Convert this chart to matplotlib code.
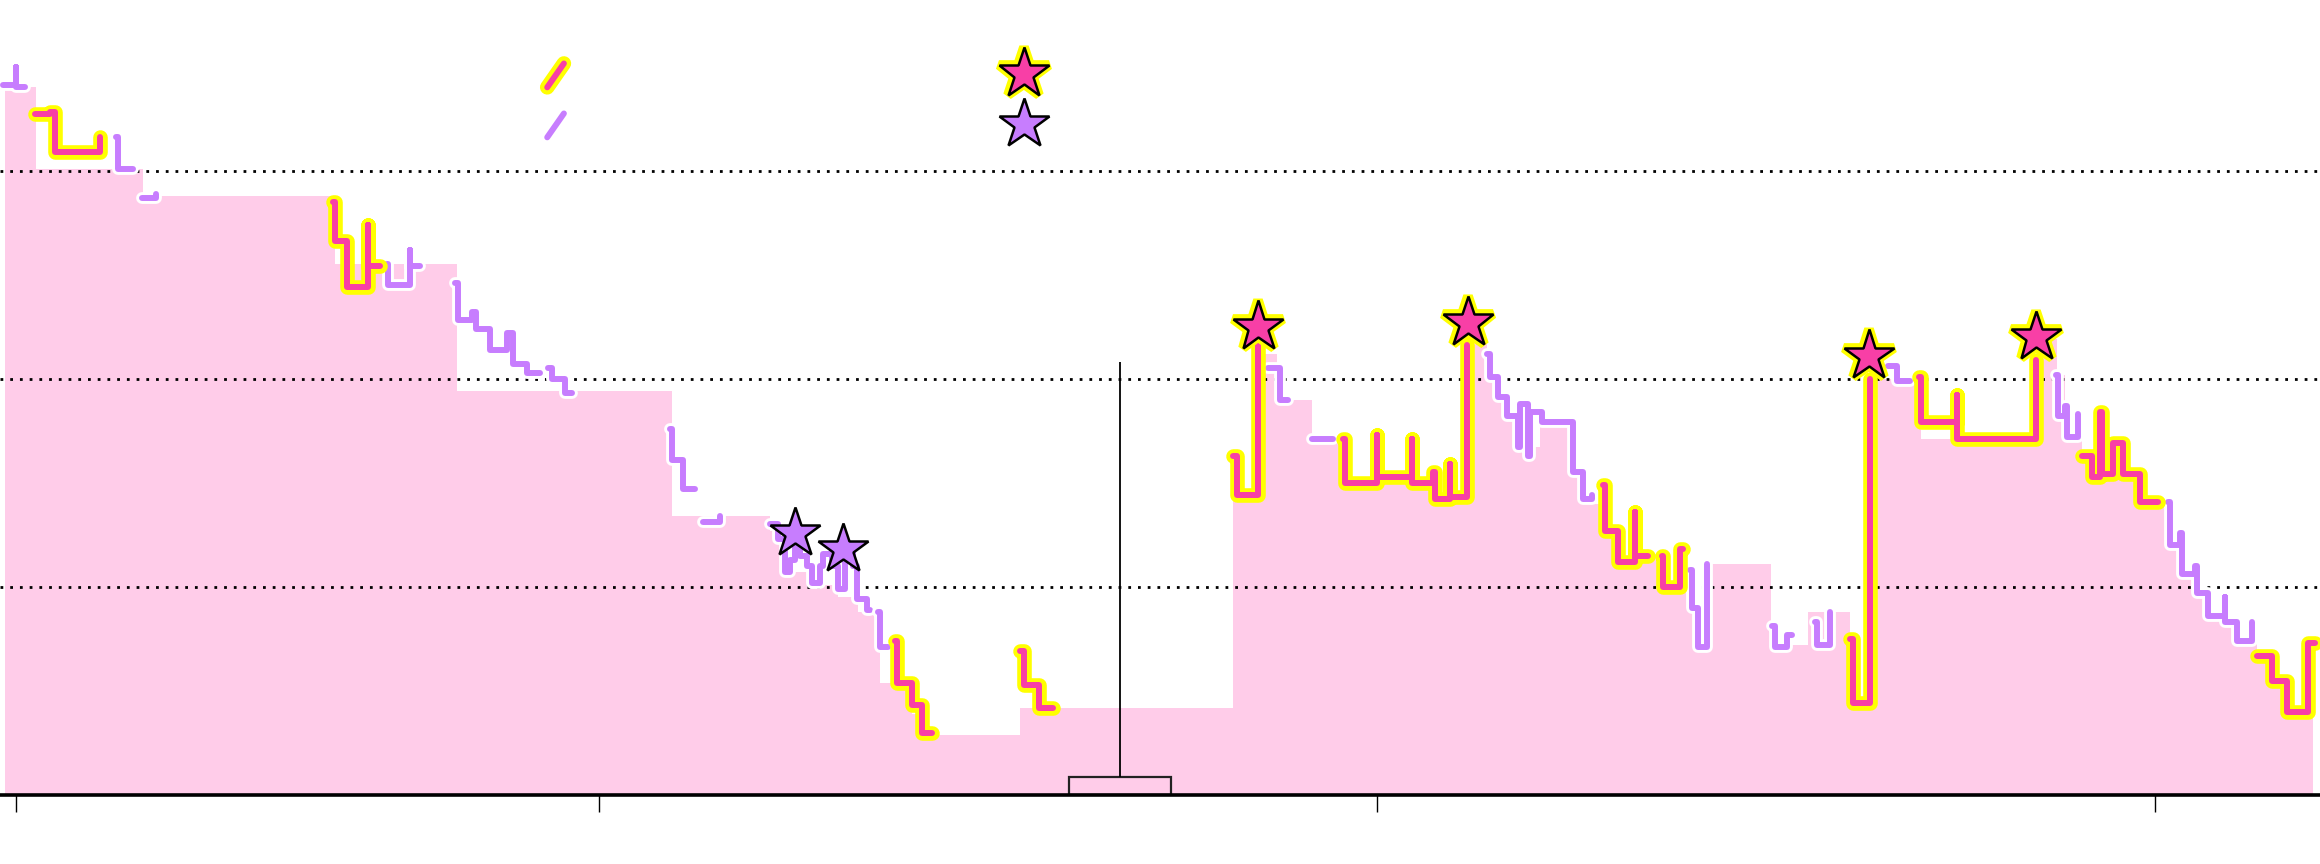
import matplotlib
matplotlib.use("Agg")
import matplotlib.pyplot as plt
import matplotlib.patheffects as pe
from matplotlib.lines import Line2D
from matplotlib.legend_handler import HandlerBase

# colours
FILL = "#ffcce9"
HOT = "#f83fa6"
COOL = "#c77dfe"
GLOW = "#ffff00"

# step line, split into pieces; each piece is "hot" or "cool"
seg_kind = ["cool", "hot", "cool", "cool", "hot", "cool", "cool", "cool", "cool", "cool",
            "cool", "cool", "hot", "hot", "hot", "cool", "cool", "hot", "cool", "hot",
            "hot", "cool", "cool", "cool", "hot", "cool", "hot", "cool", "hot", "cool", "hot"]
seg_x = [
    [23.4, 25.1, 25.1, 26.2],
    [27.5, 29.4, 30.1, 35.9],
    [37.9, 38.2, 40.1],
    [41.3, 43.1],
    [65.8, 66.1, 67.6, 70.3, 70.3, 71.8],
    [72.7, 72.9, 75.7, 75.7, 77.0],
    [81.5, 81.9, 83.7, 84.2, 86.0, 88.2, 88.9, 90.7, 92.4],
    [93.4, 94.0, 95.6, 96.5],
    [109.1, 109.4, 110.8, 112.3],
    [113.4, 115.5],
    [122.0, 123.0, 123.9, 124.5, 125.2, 125.8, 126.7, 127.4, 128.4, 128.8, 129.9, 130.7,
     131.6, 132.6, 133.2, 134.4, 134.8],
    [135.9, 136.1, 137.1],
    [138.0, 138.3, 140.2, 141.5, 142.8],
    [154.1, 154.6, 156.5, 158.3],
    [181.5, 182.0, 184.7],
    [186.0, 187.5, 188.5],
    [191.6, 194.3],
    [195.6, 195.9, 200.0, 200.0, 204.5, 204.5, 207.2, 207.4, 209.4, 209.4, 211.6],
    [214.1, 214.5, 215.5, 216.7, 218.1, 218.4, 219.4, 219.7, 221.2, 225.2, 226.5, 227.6],
    [229.0, 229.3, 231.0, 233.2, 233.2, 234.8],
    [236.6, 236.7, 238.9, 239.3],
    [240.2, 240.5, 241.2, 242.4],
    [250.8, 251.2, 252.7, 253.3],
    [256.3, 256.5, 258.2],
    [260.8, 261.2, 263.4],
    [265.7, 266.8, 268.5],
    [269.7, 269.9, 274.5, 274.5, 284.7],
    [287.3, 287.5, 288.4, 288.7, 290.1],
    [290.6, 291.9, 292.9, 293.2, 294.6, 295.9, 298.1, 300.4],
    [301.7, 301.9, 303.2, 303.5, 305.1, 305.4, 306.8, 309.0, 309.0, 310.5, 312.5],
    [313.1, 315.0, 317.0, 319.7, 320.6],
]
seg_y = [
    [341, 350, 340, 340],
    [327, 328, 309, 316],
    [316, 301, 301],
    [287, 289],
    [285, 266, 244, 274, 254, 254],
    [255, 245, 262, 254, 254],
    [246, 228, 232, 224, 214, 222, 207, 203, 203],
    [205, 200, 193, 193],
    [176, 161, 147, 147],
    [131, 134],
    [130, 123, 107, 113, 126, 115, 110, 102, 110, 116, 110, 99, 118, 110, 94, 89, 89],
    [88, 71, 71],
    [74, 54, 43, 30, 30],
    [69, 53, 42, 42],
    [163, 144, 216],
    [205, 190, 190],
    [171, 171],
    [171, 150, 173, 153, 171, 150, 155, 142, 159, 143, 216],
    [212, 201, 191, 182, 167, 188, 163, 184, 179, 155, 142, 144],
    [149, 127, 112, 136, 115, 115],
    [115, 100, 118, 118],
    [108, 90, 71, 111],
    [81, 71, 77, 77],
    [83, 72, 88],
    [75, 44, 200],
    [206, 199, 199],
    [201, 179, 192, 171, 209],
    [202, 182, 187, 172, 183],
    [163, 153, 184, 154, 169, 154, 141, 141],
    [141, 120, 126, 106, 110, 97, 86, 95, 83, 74, 83],
    [67, 55, 40, 73, 73],
]

# shaded area (step)
area_x = [23.6, 27.6, 41.4, 66.1, 81.7, 109.4, 122.0, 123.9, 127.1, 130.7, 133.3, 135.5,
          136.1, 140.2, 141.6, 154.1, 181.5, 184.7, 187.1, 191.6, 195.6, 207.2, 211.6,
          214.1, 215.5, 216.7, 218.1, 220.9, 225.2, 226.5, 229.0, 231.0, 234.7, 236.6,
          240.2, 241.2, 242.4, 250.6, 255.4, 260.8, 263.4, 269.9, 284.7, 287.4, 288.4,
          290.1, 290.6, 291.9, 295.9, 298.1, 301.9, 303.5, 305.4, 306.8, 309.0, 310.5,
          313.1, 315.0, 317.0, 320.3]
area_y = [340, 301, 288, 255, 194, 134, 127, 107, 101, 95, 88, 70, 54, 39, 29, 42, 145,
          212, 190, 171, 150, 143, 219, 201, 191, 182, 167, 177, 155, 140, 127, 112, 116,
          100, 90, 71, 111, 72, 88, 44, 200, 171, 219, 202, 182, 172, 163, 153, 154, 141,
          120, 106, 97, 86, 83, 74, 67, 55, 40, 40]

# star markers
hot_star_x = [184.7, 211.7, 263.2, 284.7]
hot_star_y = [225, 227, 211, 220]
cool_star_x = [125.2, 131.4]
cool_star_y = [126, 118]

# small box with a whisker
box_x = 167.0
box_w = 13.1
box_h = 8.7
whisker_top = 208

xticks = [25, 100, 200, 300]
yticks = [100, 200, 300]

LW = 4.3
hot_fx = [pe.Stroke(linewidth=10.5, foreground=GLOW, capstyle="round", joinstyle="round"), pe.Normal()]
cool_fx = [pe.Stroke(linewidth=8.5, foreground="white", capstyle="round", joinstyle="round"), pe.Normal()]


class DiagHandler(HandlerBase):
    # legend handle drawn as a short slanted stroke
    def create_artists(self, legend, orig_handle, xdescent, ydescent, width, height, fontsize, trans):
        x0, y0 = -xdescent, -ydescent
        ln = Line2D([x0 + 0.2 * width, x0 + 0.7 * width], [y0 + 0.1 * height, y0 + 0.9 * height])
        ln.update_from(orig_handle)
        ln.set_drawstyle("default")
        ln.set_marker("")
        ln.set_transform(trans)
        return [ln]


fig = plt.figure(figsize=(23.2, 8.64), dpi=100)
ax = fig.add_axes([0, 0.0799, 1, 0.9201])

ax.fill_between(area_x, area_y, 0, step="post", color=FILL, lw=0, zorder=1)

ax.bar(box_x, box_h, width=box_w, color=FILL, edgecolor="#222222", linewidth=1.6, zorder=2)
ax.vlines(box_x, box_h, whisker_top, color="black", linewidth=1.3, zorder=2)

hot_line = cool_line = None
for xs, ys, kind in zip(seg_x, seg_y, seg_kind):
    if kind == "hot":
        hot_line, = ax.plot(xs, ys, drawstyle="steps-post", color=HOT, lw=LW,
                            solid_capstyle="round", solid_joinstyle="round",
                            path_effects=hot_fx, zorder=4)
    else:
        cool_line, = ax.plot(xs, ys, drawstyle="steps-post", color=COOL, lw=LW,
                             solid_capstyle="round", solid_joinstyle="round",
                             path_effects=cool_fx, zorder=3)

hot_star, = ax.plot(hot_star_x, hot_star_y, ls="none", marker="*", markersize=38,
                    markerfacecolor=HOT, markeredgecolor="black", markeredgewidth=1.8,
                    path_effects=[pe.Stroke(linewidth=7, foreground=GLOW), pe.Normal()], zorder=6)
cool_star, = ax.plot(cool_star_x, cool_star_y, ls="none", marker="*", markersize=38,
                     markerfacecolor=COOL, markeredgecolor="black", markeredgewidth=1.8, zorder=5)

ax.set_xlim(23.0, 321.2)
ax.set_ylim(0, 382)
ax.set_xticks(xticks)
ax.set_xticklabels([])
ax.set_yticks(yticks)
ax.set_yticklabels([])
ax.tick_params(axis="x", length=12, width=1, color="black")
ax.tick_params(axis="y", length=0)
ax.grid(axis="y", color="black", linestyle=(0, (1, 2.5)), linewidth=2)
ax.set_axisbelow(False)
for s in ["top", "right", "left"]:
    ax.spines[s].set_visible(False)
ax.spines["bottom"].set_linewidth(2.6)
ax.patch.set_visible(False)

ax.legend([hot_line, cool_line, hot_star, cool_star], ["", "", "", ""],
          ncol=2, frameon=False, fontsize=24, handlelength=1.0, handleheight=1.0,
          handletextpad=0.8, columnspacing=12.2, labelspacing=0.5, borderpad=0,
          borderaxespad=0, loc="upper left", bbox_to_anchor=(0.233, 0.93),
          bbox_transform=fig.transFigure,
          handler_map={hot_line: DiagHandler(), cool_line: DiagHandler()})

fig.savefig("out.png", dpi=100)
